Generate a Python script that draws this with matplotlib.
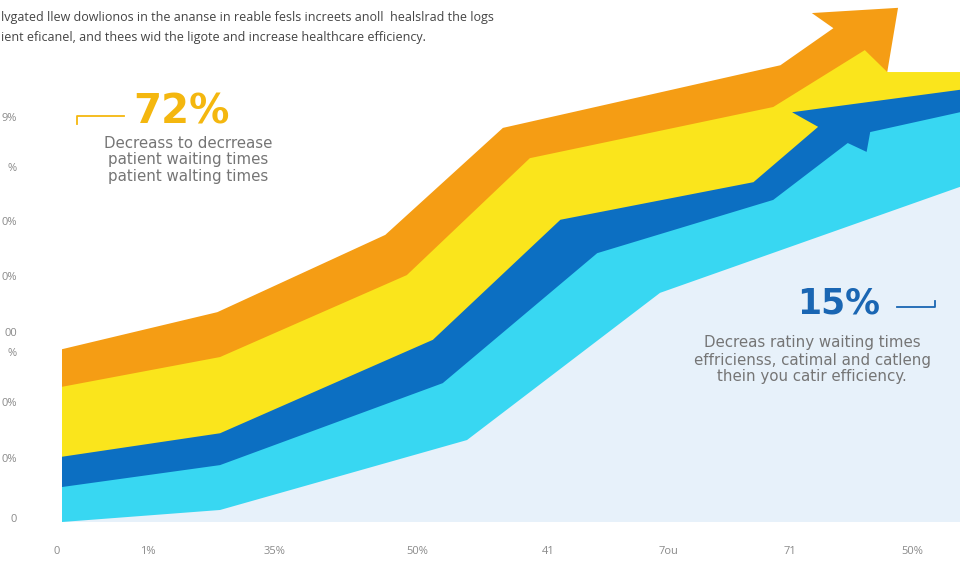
import matplotlib.pyplot as plt
from matplotlib.lines import Line2D

plt.rcParams['font.family'] = ['Open Sans', 'DejaVu Sans']

# top edge of each stacked band (x 0-100 across the plot, y 0-100 up the plot)
orange_x = [0, 17.3, 36.0, 49.1, 80.0, 85.9, 83.5, 93.1, 91.9]
orange_y = [33.1, 40.2, 55.0, 75.5, 87.5, 94.6, 97.5, 98.5, 86.2]
yellow_x = [0, 17.6, 38.4, 52.1, 79.2, 89.4, 91.9, 100]
yellow_y = [25.9, 31.6, 47.3, 69.7, 79.5, 90.4, 86.2, 86.2]
blue_x = [0, 17.6, 41.3, 55.5, 77.0, 84.2, 81.3, 100]
blue_y = [12.5, 17.0, 34.9, 57.9, 65.1, 75.7, 78.5, 82.8]
cyan_x = [0, 17.6, 42.4, 59.6, 79.2, 87.5, 89.6, 90.0, 100]
cyan_y = [6.7, 10.9, 26.6, 51.5, 61.7, 72.6, 70.9, 74.7, 78.5]
pale_x = [0, 17.6, 45.1, 66.6, 100]
pale_y = [0, 2.3, 15.7, 43.9, 64.2]

xtick_pos = [-0.6, 9.6, 23.7, 39.6, 54.1, 67.5, 81.1, 94.7]
xtick_labels = ['0', '1%', '35%', '50%', '41', '7ou', '71', '50%']
ytick_pos = [77.6, 68.0, 57.7, 47.1, 36.4, 32.6, 23.0, 12.3, 0.8]
ytick_labels = ['9%', '%', '0%', '0%', '00', '%', '0%', '0%', '0']

layers = [
    (orange_x, orange_y, '#f59d14'),
    (yellow_x, yellow_y, '#fae51c'),
    (blue_x, blue_y, '#0c6fc2'),
    (cyan_x, cyan_y, '#38d7f2'),
    (pale_x, pale_y, '#e7f1fa'),
]

W, H = 960, 566
fig = plt.figure(figsize=(9.6, 5.66), dpi=100)
ax = fig.add_axes([40 / W, 44 / H, 920 / W, 522 / H])

for xs, ys, c in layers:
    ax.fill(xs + [xs[-1], xs[0]], ys + [0, 0], color=c, lw=0)

ax.set_xlim(-2.45, 100)
ax.set_ylim(0, 100)
ax.set_xticks(xtick_pos, xtick_labels)
ax.set_yticks(ytick_pos, ytick_labels)
ax.tick_params(length=0, labelsize=8, labelcolor='#8a8a8a')
ax.tick_params(axis='x', pad=17)
ax.tick_params(axis='y', pad=16.5)
for s in ax.spines.values():
    s.set_visible(False)


def fx(px):
    return px / W


def fy(py):
    return 1 - py / H


# header text
fig.text(fx(1), fy(18), 'lvgated llew dowlionos in the ananse in reable fesls increets anoll '
         ' healslrad the logs', fontsize=9, color='#444444', va='center')
fig.text(fx(1), fy(37), 'ient eficanel, and thees wid the ligote and increase healthcare efficiency.',
         fontsize=9, color='#444444', va='center')

# 72% callout
gold = '#f4b70f'
fig.add_artist(Line2D([fx(77), fx(77), fx(124)], [fy(124), fy(116), fy(116)], color=gold, lw=1.3))
fig.text(fx(133), fy(113), '72%', fontsize=29, fontweight='bold', color=gold,
         family='DejaVu Sans', va='center', ha='left')
for i, t in enumerate(['Decreass to decrrease', 'patient waiting times', 'patient walting times']):
    fig.text(fx(188), fy(143 + i * 16.5), t, fontsize=10.8, color='#757575', ha='center',
             va='center', family='DejaVu Sans')

# 15% callout
navy = '#1a66b3'
fig.add_artist(Line2D([fx(897), fx(935), fx(935)], [fy(307), fy(307), fy(301)], color=navy, lw=1.3))
fig.text(fx(880), fy(304), '15%', fontsize=25, fontweight='bold', color=navy,
         family='DejaVu Sans', va='center', ha='right')
for i, t in enumerate(['Decreas ratiny waiting times', 'effricienss, catimal and catleng',
                       'thein you catir efficiency.']):
    fig.text(fx(812), fy(343 + i * 17), t, fontsize=10.8, color='#757575', ha='center',
             va='center', family='DejaVu Sans')

fig.savefig('out.png', dpi=100)
